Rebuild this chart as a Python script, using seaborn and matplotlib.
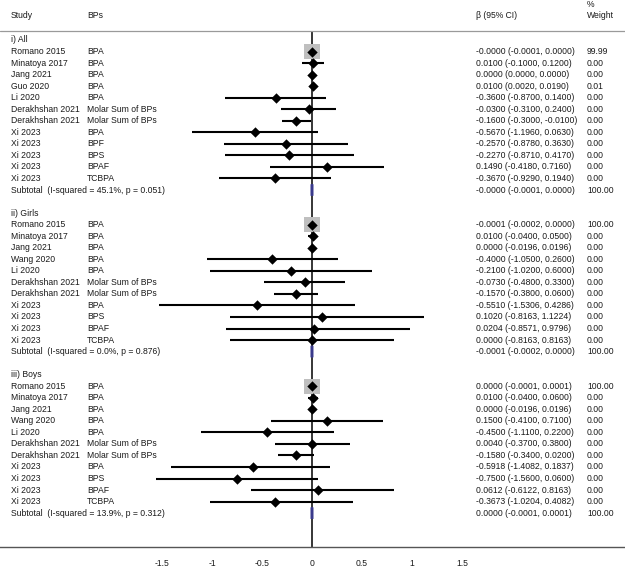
import numpy as np
import pandas as pd
import matplotlib
matplotlib.use("Agg")
import matplotlib.pyplot as plt
import seaborn as sns

# ---------------- data ----------------
group_names = ["i) All", "ii) Girls", "iii) Boys"]

all_study = ["Romano 2015", "Minatoya 2017", "Jang 2021", "Guo 2020", "Li 2020",
             "Derakhshan 2021", "Derakhshan 2021", "Xi 2023", "Xi 2023", "Xi 2023",
             "Xi 2023", "Xi 2023"]
all_bps = ["BPA", "BPA", "BPA", "BPA", "BPA", "Molar Sum of BPs", "Molar Sum of BPs",
           "BPA", "BPF", "BPS", "BPAF", "TCBPA"]
all_beta = [-0.0, 0.0100, 0.0000, 0.0100, -0.3600, -0.0300, -0.1600, -0.5670,
            -0.2570, -0.2270, 0.1490, -0.3670]
all_lo = [-0.0001, -0.1000, 0.0000, 0.0020, -0.8700, -0.3100, -0.3000, -1.1960,
          -0.8780, -0.8710, -0.4180, -0.9290]
all_hi = [0.0000, 0.1200, 0.0000, 0.0190, 0.1400, 0.2400, -0.0100, 0.0630,
          0.3630, 0.4170, 0.7160, 0.1940]
all_weight = [99.99, 0.00, 0.00, 0.01, 0.00, 0.00, 0.00, 0.00, 0.00, 0.00, 0.00, 0.00]
all_pooled = [-0.0, -0.0001, 0.0000, 100.00]
all_het = [45.1, 0.051]

girls_study = ["Romano 2015", "Minatoya 2017", "Jang 2021", "Wang 2020", "Li 2020",
               "Derakhshan 2021", "Derakhshan 2021", "Xi 2023", "Xi 2023", "Xi 2023",
               "Xi 2023"]
girls_bps = ["BPA", "BPA", "BPA", "BPA", "BPA", "Molar Sum of BPs", "Molar Sum of BPs",
             "BPA", "BPS", "BPAF", "TCBPA"]
girls_beta = [-0.0001, 0.0100, 0.0000, -0.4000, -0.2100, -0.0730, -0.1570, -0.5510,
              0.1020, 0.0204, 0.0000]
girls_lo = [-0.0002, -0.0400, -0.0196, -1.0500, -1.0200, -0.4800, -0.3800, -1.5306,
            -0.8163, -0.8571, -0.8163]
girls_hi = [0.0000, 0.0500, 0.0196, 0.2600, 0.6000, 0.3300, 0.0600, 0.4286,
            1.1224, 0.9796, 0.8163]
girls_weight = [100.00, 0.00, 0.00, 0.00, 0.00, 0.00, 0.00, 0.00, 0.00, 0.00, 0.00]
girls_pooled = [-0.0001, -0.0002, 0.0000, 100.00]
girls_het = [0.0, 0.876]

boys_study = ["Romano 2015", "Minatoya 2017", "Jang 2021", "Wang 2020", "Li 2020",
              "Derakhshan 2021", "Derakhshan 2021", "Xi 2023", "Xi 2023", "Xi 2023",
              "Xi 2023"]
boys_bps = ["BPA", "BPA", "BPA", "BPA", "BPA", "Molar Sum of BPs", "Molar Sum of BPs",
            "BPA", "BPS", "BPAF", "TCBPA"]
boys_beta = [0.0000, 0.0100, 0.0000, 0.1500, -0.4500, 0.0040, -0.1580, -0.5918,
             -0.7500, 0.0612, -0.3673]
boys_lo = [-0.0001, -0.0400, -0.0196, -0.4100, -1.1100, -0.3700, -0.3400, -1.4082,
           -1.5600, -0.6122, -1.0204]
boys_hi = [0.0001, 0.0600, 0.0196, 0.7100, 0.2200, 0.3800, 0.0200, 0.1837,
           0.0600, 0.8163, 0.4082]
boys_weight = [100.00, 0.00, 0.00, 0.00, 0.00, 0.00, 0.00, 0.00, 0.00, 0.00, 0.00]
boys_pooled = [0.0000, -0.0001, 0.0001, 100.00]
boys_het = [13.9, 0.312]

x_ticks = [-1.5, -1, -0.5, 0, 0.5, 1, 1.5]
tick_labels = ["-1.5", "-1", "-0.5", "0", "0.5", "1", "1.5"]

# ---------------- build one table with row positions ----------------
groups = [
    (all_study, all_bps, all_beta, all_lo, all_hi, all_weight, all_pooled, all_het),
    (girls_study, girls_bps, girls_beta, girls_lo, girls_hi, girls_weight, girls_pooled, girls_het),
    (boys_study, boys_bps, boys_beta, boys_lo, boys_hi, boys_weight, boys_pooled, boys_het),
]

rows = []
headers = []
subtotals = []
r = 0
for name, g in zip(group_names, groups):
    study, bps, beta, lo, hi, w, pooled, het = g
    headers.append((r, name))
    r += 1
    for i in range(len(study)):
        rows.append(dict(row=r, study=study[i], bps=bps[i], beta=beta[i],
                         lo=lo[i], hi=hi[i], weight=w[i]))
        r += 1
    subtotals.append(dict(row=r, beta=pooled[0], lo=pooled[1], hi=pooled[2],
                          weight=pooled[3], i2=het[0], p=het[1]))
    r += 2
df = pd.DataFrame(rows)
sub = pd.DataFrame(subtotals)

# ---------------- figure ----------------
sns.set_style("white")
plt.rcParams["font.family"] = ["Liberation Sans", "DejaVu Sans"]
fs = 6.2
tc = "#1a1a1a"

fig = plt.figure(figsize=(6.25, 5.7), dpi=100)
ax = fig.add_axes([0, 23 / 570, 1, 547 / 570])
ax.set_xlim(-3.12, 3.13)
row_px = 11.54
ax.set_ylim((547 - 40) / row_px, -40 / row_px)

# weight boxes
box = df[df["weight"] > 0.5]
ax.scatter(box["beta"], box["row"], marker="s", s=np.sqrt(box["weight"] / 100) * 120,
           color="#bfbfbf", zorder=2, linewidths=0)

# confidence intervals
ax.hlines(df["row"], df["lo"], df["hi"], color="black", lw=1.5, zorder=3)
sns.scatterplot(data=df, x="beta", y="row", marker="D", color="black", s=28,
                linewidth=0, ax=ax, legend=False, zorder=4)

# pooled diamonds (very narrow, so they show as a short bar)
for _, s in sub.iterrows():
    ax.fill([s["lo"], s["beta"], s["hi"], s["beta"]],
            [s["row"], s["row"] - 0.5, s["row"], s["row"] + 0.5],
            facecolor="#3a3a8c", edgecolor="#3a3a8c", lw=1.8, zorder=5)

# null line and header rule
top_rule = -0.82
ax.vlines(0, top_rule, (547 - 40) / row_px, color="black", lw=1.1, zorder=1)
ax.axhline(top_rule, color="#9a9a9a", lw=0.9)

# text columns
x_study, x_bps, x_ci, x_w = -3.01, -2.25, 1.635, 2.75
ax.text(x_study, -2.1, "Study", fontsize=fs, color=tc, va="center")
ax.text(x_bps, -2.1, "BPs", fontsize=fs, color=tc, va="center")
ax.text(x_ci, -2.1, "β (95% CI)", fontsize=fs, color=tc, va="center")
ax.text(x_w, -3.05, "%", fontsize=fs, color=tc, va="center")
ax.text(x_w, -2.1, "Weight", fontsize=fs, color=tc, va="center")

for hr, name in headers:
    ax.text(x_study, hr, name, fontsize=fs, color=tc, va="center")

for _, d in df.iterrows():
    ax.text(x_study, d["row"], d["study"], fontsize=fs, color=tc, va="center")
    ax.text(x_bps, d["row"], d["bps"], fontsize=fs, color=tc, va="center")
    ax.text(x_ci, d["row"], f"{d['beta']:.4f} ({d['lo']:.4f}, {d['hi']:.4f})",
            fontsize=fs, color=tc, va="center")
    ax.text(x_w, d["row"], f"{d['weight']:.2f}", fontsize=fs, color=tc, va="center")

for _, s in sub.iterrows():
    ax.text(x_study, s["row"], f"Subtotal  (I-squared = {s['i2']:.1f}%, p = {s['p']:.3f})",
            fontsize=fs, color=tc, va="center")
    ax.text(x_ci, s["row"], f"{s['beta']:.4f} ({s['lo']:.4f}, {s['hi']:.4f})",
            fontsize=fs, color=tc, va="center")
    ax.text(x_w, s["row"], f"{s['weight']:.2f}", fontsize=fs, color=tc, va="center")

# axis
for side in ["top", "left", "right"]:
    ax.spines[side].set_visible(False)
ax.spines["bottom"].set_color("#555555")
ax.spines["bottom"].set_linewidth(1.0)
ax.set_yticks([])
ax.set_xticks(x_ticks)
ax.set_xticklabels(tick_labels)
ax.tick_params(axis="x", direction="out", length=4, width=0.9, color="#555555",
               labelsize=fs, labelcolor=tc, pad=5)
ax.set_xlabel("")
ax.set_ylabel("")

fig.savefig("out.png", dpi=100)
